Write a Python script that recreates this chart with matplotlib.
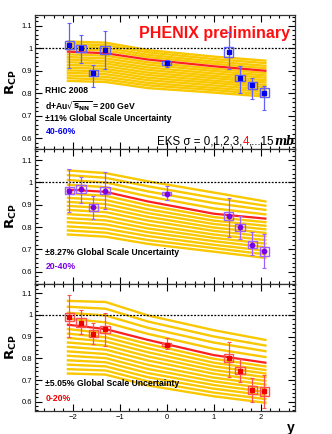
"""R_CP vs rapidity in d+Au, three centrality bins, with EKS band."""
import numpy as np
import matplotlib
matplotlib.use("Agg")
import matplotlib.pyplot as plt
from matplotlib.patches import Rectangle
from matplotlib.ticker import MultipleLocator, FuncFormatter

plt.rcParams['font.family'] = ['Liberation Sans', 'DejaVu Sans']

# rapidity of the measured points (same for every centrality bin)
Y_PTS = [-2.07, -1.82, -1.56, -1.31, 0.0, 1.32, 1.56, 1.82, 2.08]

# 40-60%
RCP_4060 = [1.015, 1.000, 0.890, 0.992, 0.935, 0.982, 0.868, 0.835, 0.803]
HI_4060 = [1.114, 1.060, 0.924, 1.076, 0.950, 1.071, 0.920, 0.868, 0.833]
LO_4060 = [0.912, 0.936, 0.829, 0.909, 0.917, 0.909, 0.803, 0.776, 0.727]
SYS_4060 = [0.019, 0.015, 0.013, 0.016, 0.008, 0.022, 0.015, 0.015, 0.021]

# 20-40%
RCP_2040 = [0.964, 0.970, 0.888, 0.964, 0.950, 0.848, 0.800, 0.722, 0.692]
HI_2040 = [1.060, 1.024, 0.940, 1.045, 0.982, 0.930, 0.851, 0.777, 0.768]
LO_2040 = [0.866, 0.910, 0.838, 0.880, 0.920, 0.756, 0.747, 0.673, 0.618]
SYS_2040 = [0.017, 0.017, 0.015, 0.017, 0.008, 0.018, 0.016, 0.016, 0.020]

# 0-20%
RCP_0020 = [0.992, 0.965, 0.913, 0.935, 0.863, 0.800, 0.743, 0.653, 0.648]
HI_0020 = [1.090, 1.023, 0.962, 1.010, 0.893, 0.875, 0.795, 0.710, 0.725]
LO_0020 = [0.900, 0.913, 0.865, 0.857, 0.845, 0.715, 0.690, 0.598, 0.570]
SYS_0020 = [0.019, 0.020, 0.016, 0.016, 0.008, 0.018, 0.016, 0.018, 0.021]

# EKS curves, sigma = 0..15 mb; one list per rapidity node
EKS_Y = [-2.1, -1.3, -0.4, 1.0, 2.1]
EKS_4060 = [
    [1.030, 1.019, 1.008, 0.996, 0.985, 0.973, 0.961, 0.950, 0.938, 0.926, 0.914, 0.902, 0.891, 0.879, 0.867, 0.855],
    [1.025, 1.014, 1.002, 0.990, 0.978, 0.967, 0.955, 0.943, 0.932, 0.920, 0.908, 0.897, 0.885, 0.873, 0.861, 0.850],
    [0.992, 0.982, 0.971, 0.961, 0.950, 0.938, 0.927, 0.915, 0.904, 0.892, 0.881, 0.869, 0.858, 0.846, 0.835, 0.823],
    [0.963, 0.952, 0.941, 0.931, 0.920, 0.909, 0.899, 0.888, 0.877, 0.867, 0.856, 0.846, 0.835, 0.824, 0.814, 0.803],
    [0.945, 0.934, 0.922, 0.911, 0.900, 0.890, 0.879, 0.869, 0.858, 0.848, 0.837, 0.827, 0.816, 0.806, 0.795, 0.785],
]
EKS_2040 = [
    [1.054, 1.033, 1.011, 0.990, 0.968, 0.950, 0.931, 0.913, 0.895, 0.877, 0.858, 0.840, 0.822, 0.803, 0.785, 0.767],
    [1.042, 1.021, 1.000, 0.979, 0.958, 0.940, 0.921, 0.903, 0.885, 0.867, 0.848, 0.830, 0.812, 0.793, 0.775, 0.757],
    [1.005, 0.983, 0.960, 0.938, 0.915, 0.898, 0.880, 0.863, 0.846, 0.829, 0.811, 0.794, 0.777, 0.760, 0.742, 0.725],
    [0.955, 0.931, 0.908, 0.884, 0.860, 0.845, 0.829, 0.814, 0.798, 0.783, 0.767, 0.752, 0.737, 0.721, 0.706, 0.690],
    [0.915, 0.896, 0.877, 0.857, 0.838, 0.822, 0.806, 0.790, 0.774, 0.758, 0.742, 0.726, 0.710, 0.694, 0.678, 0.662],
]
EKS_0020 = [
    [1.065, 1.038, 1.010, 0.983, 0.955, 0.935, 0.914, 0.894, 0.873, 0.853, 0.832, 0.812, 0.791, 0.771, 0.750, 0.730],
    [1.060, 1.029, 0.998, 0.966, 0.935, 0.916, 0.897, 0.878, 0.859, 0.840, 0.820, 0.801, 0.782, 0.763, 0.744, 0.725],
    [0.998, 0.970, 0.941, 0.913, 0.885, 0.866, 0.847, 0.828, 0.809, 0.790, 0.770, 0.751, 0.732, 0.713, 0.694, 0.675],
    [0.930, 0.901, 0.873, 0.844, 0.815, 0.798, 0.780, 0.763, 0.746, 0.729, 0.711, 0.694, 0.677, 0.660, 0.642, 0.625],
    [0.885, 0.859, 0.833, 0.806, 0.780, 0.763, 0.746, 0.730, 0.713, 0.696, 0.679, 0.662, 0.645, 0.629, 0.612, 0.595],
]
RED_SIGMA = 4

YELLOW = "#f9c800"


def draw_panel(ax, rcp, hi, lo, sys, eks, col, ecol, marker, ylim):
    curves = np.array(eks).T
    for i, c in enumerate(curves):
        if i != RED_SIGMA:
            ax.plot(EKS_Y, c, color=YELLOW, lw=1.7, zorder=2)
    ax.plot(EKS_Y, curves[RED_SIGMA], color="#ff2020", lw=1.6, zorder=3)
    ax.axhline(1.0, color="k", ls=(0, (1.5, 1.2)), lw=0.9, zorder=4)

    x = np.array(Y_PTS)
    r = np.array(rcp)
    for xi, ri, si in zip(x, r, sys):
        ax.add_patch(Rectangle((xi - 0.1, ri - si), 0.2, 2 * si, fill=False,
                               ec=ecol, lw=1.0, zorder=5))
    ax.errorbar(x, r, yerr=[r - np.array(lo), np.array(hi) - r], fmt="none",
                ecolor=ecol, elinewidth=0.9, capsize=1.5, capthick=0.8, zorder=5)
    ax.plot(x, r, marker, color=col, ms=3.2, zorder=6)

    ax.set_xlim(-2.8, 2.73)
    ax.set_ylim(*ylim)
    ax.xaxis.set_major_locator(MultipleLocator(1))
    ax.xaxis.set_minor_locator(MultipleLocator(0.2))
    ax.yaxis.set_major_locator(MultipleLocator(0.1))
    ax.yaxis.set_minor_locator(MultipleLocator(0.02))
    ax.yaxis.set_major_formatter(FuncFormatter(lambda v, p: f"{v:g}"))
    ax.tick_params(which="both", direction="in", top=True, right=True,
                   labelsize=5.5, width=0.8, pad=2)
    ax.tick_params(which="major", length=5)
    ax.tick_params(which="minor", length=2.5)
    for s in ax.spines.values():
        s.set_linewidth(0.9)
        s.set_color("#333333")
    ax.set_ylabel(r"$\mathbf{R_{CP}}$", fontsize=9.5, labelpad=2)


def main():
    fig = plt.figure(figsize=(3.32, 4.34), dpi=100)
    left, width = 35 / 332, 260 / 332
    ax1 = fig.add_axes([left, 1 - 149 / 434, width, 134 / 434])
    ax2 = fig.add_axes([left, 1 - 284 / 434, width, 135 / 434])
    ax3 = fig.add_axes([left, 1 - 411 / 434, width, 127 / 434])

    draw_panel(ax1, RCP_4060, HI_4060, LO_4060, SYS_4060, EKS_4060,
               "#0000ee", "#6060ff", "s", (0.552, 1.148))
    draw_panel(ax2, RCP_2040, HI_2040, LO_2040, SYS_2040, EKS_2040,
               "#7a00e6", "#a060ff", "o", (0.545, 1.150))
    draw_panel(ax3, RCP_0020, HI_0020, LO_0020, SYS_0020, EKS_0020,
               "#ee0000", "#ff5050", "s", (0.557, 1.143))
    for ax in (ax1, ax2):
        ax.tick_params(labelbottom=False)
    ax3.set_xlabel("y", fontsize=10, fontweight="bold", loc="right", labelpad=0)

    # panel 1 annotations
    ax1.text(0.98, 0.865, "PHENIX preliminary", transform=ax1.transAxes,
             color="#ff1010", fontsize=11.5, fontweight="bold", ha="right",
             va="center")
    tkw = dict(transform=ax1.transAxes, fontsize=6.2, fontweight="bold",
               va="center")
    ax1.text(0.04, 0.44, "RHIC 2008", **tkw)
    ax1.text(0.04, 0.32, r"d+Au$\mathbf{\sqrt{s_{NN}}}$ = 200 GeV", **tkw)
    ax1.text(0.04, 0.23, "\u00b111% Global Scale Uncertainty", **tkw)
    ax1.text(0.04, 0.127, "40-60%", color="#0000ee", **tkw)
    t = ax1.text(0.47, 0.03, "EKS \u03c3 = 0,1,2,3,", transform=ax1.transAxes,
                 fontsize=8.3)
    t = ax1.annotate("4", xy=(1, 0), xycoords=t, color="#ff1010", fontsize=8.3,
                     va="bottom")
    t = ax1.annotate(",...15", xy=(1, 0), xycoords=t, fontsize=8.3, va="bottom")
    ax1.annotate("mb", xy=(1, 0), xycoords=t, fontsize=8.3, va="bottom",
                 family="DejaVu Serif", style="italic", fontweight="bold")

    ax2.text(0.04, 0.23, "\u00b18.27% Global Scale Uncertainty",
             transform=ax2.transAxes, fontsize=6.2, fontweight="bold",
             va="center")
    ax2.text(0.04, 0.133, "20-40%", transform=ax2.transAxes, fontsize=6.2,
             fontweight="bold", color="#7a00e6", va="center")
    ax3.text(0.04, 0.213, "\u00b15.05% Global Scale Uncertainty",
             transform=ax3.transAxes, fontsize=6.2, fontweight="bold",
             va="center")
    ax3.text(0.04, 0.10, "0-20%", transform=ax3.transAxes, fontsize=6.2,
             fontweight="bold", color="#ee0000", va="center")

    fig.savefig("out.png", dpi=100)


if __name__ == "__main__":
    main()
